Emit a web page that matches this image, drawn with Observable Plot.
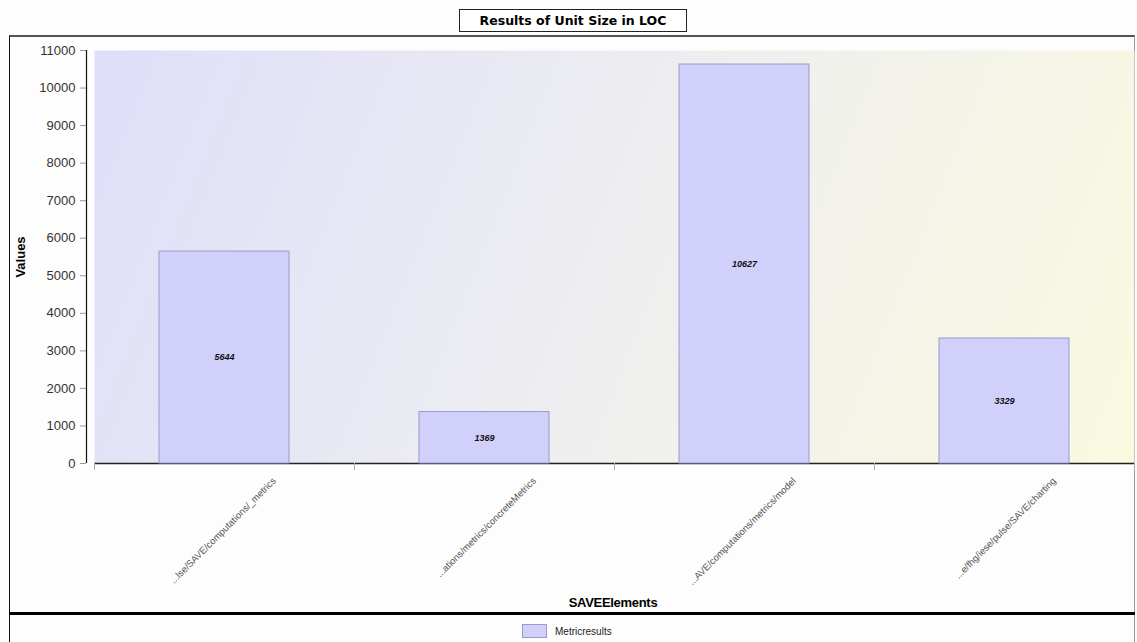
<!DOCTYPE html>
<html>
<head>
<meta charset="utf-8">
<script src="https://cdn.jsdelivr.net/npm/d3@7"></script>
<script src="https://cdn.jsdelivr.net/npm/@observablehq/plot@0.6"></script>
<style>
  html, body { margin: 0; padding: 0; background: #fdfdfd; }
  #wrap { position: relative; width: 1137px; height: 642px; overflow: hidden; font-family: "Liberation Sans", Arial, sans-serif; }
  #title { position: absolute; left: 459px; top: 9px; width: 226px; height: 21px; border: 1px solid #222; background: #fff;
           font-family: "DejaVu Sans", sans-serif; font-weight: bold; font-size: 12.5px; line-height: 21px; text-align: center; color: #000; }
  #frame { position: absolute; left: 9px; top: 35px; width: 1124px; height: 620px; border-left: 1px solid #111; border-right: 1px solid #999; border-top: 2px solid #555; }
  #sep { position: absolute; left: 9px; top: 612px; width: 1126px; height: 3px; background: #000; }
  #chart { position: absolute; left: 0; top: 35px; }
  #ylab { position: absolute; left: 20px; top: 257px; transform: translate(-50%, -50%) rotate(-90deg); font-weight: bold; font-size: 13px; color: #000; }
  #xlab { position: absolute; left: 613px; top: 602px; transform: translate(-50%, -50%); font-weight: bold; font-size: 13px; color: #000; letter-spacing: -0.3px; }
  #legend { position: absolute; left: 522px; top: 624px; display: flex; align-items: center; font-size: 10px; color: #222; }
  #legend .sw { width: 25px; height: 14px; background: #d0d0fb; border: 1px solid #9a9acc; box-sizing: border-box; margin-right: 8px; }
</style>
</head>
<body>
<div id="wrap">
  <div id="title">Results of Unit Size in LOC</div>
  <div id="frame"></div>
  <div id="chart"></div>
  <div id="sep"></div>
  <div id="ylab">Values</div>
  <div id="xlab">SAVEElements</div>
  <div id="legend"><div class="sw"></div><span>Metricresults</span></div>
</div>
<script>
const categories = [
  "...lse/SAVE/computations/_metrics",
  "...ations/metrics/concreteMetrics",
  "...AVE/computations/metrics/model",
  "...e/fhg/iese/pulse/SAVE/charting"
];
const values = [5644, 1369, 10627, 3329];
const yTicks = [0, 1000, 2000, 3000, 4000, 5000, 6000, 7000, 8000, 9000, 10000, 11000];
const seriesName = "Metricresults";

const data = categories.map((c, i) => ({cat: c, value: values[i], series: seriesName}));

const W = 1137, H = 579;
const mTop = 15, mBottom = 151, mLeft = 94, mRight = 3;

function gradientDefs() {
  const defs = d3.create("svg:defs");
  const g = defs.append("linearGradient")
    .attr("id", "plotbg")
    .attr("gradientUnits", "userSpaceOnUse")
    .attr("x1", mLeft).attr("y1", mTop)
    .attr("x2", W - mRight).attr("y2", H - mBottom);
  g.append("stop").attr("offset", "0%").attr("stop-color", "#dedefa");
  g.append("stop").attr("offset", "50%").attr("stop-color", "#eeeef0");
  g.append("stop").attr("offset", "100%").attr("stop-color", "#faf9e0");
  return defs.node();
}

const chart = Plot.plot({
  width: W,
  height: H,
  marginTop: mTop,
  marginBottom: mBottom,
  marginLeft: mLeft,
  marginRight: mRight,
  style: {background: "transparent", fontFamily: "Liberation Sans, Arial, sans-serif"},
  x: {type: "band", domain: categories, paddingInner: 0.5, paddingOuter: 0.25, axis: null},
  y: {domain: [0, 11000], axis: null},
  marks: [
    gradientDefs,
    Plot.frame({fill: "url(#plotbg)", stroke: null}),
    Plot.axisY({ticks: yTicks, tickSize: 6, tickPadding: 5, dx: -8, fontSize: 13, color: "#333", stroke: "#999", tickFormat: d => String(d), label: null}),
    Plot.ruleX([categories[0]], {x: d => d, y1: 0, y2: 11000, dx: -138, stroke: "#111", strokeWidth: 1.2}),
    Plot.ruleY([0], {stroke: "#222", strokeWidth: 1.5}),
    Plot.ruleX(categories, {x: d => d, y1: 0, y2: 0, insetBottom: -7, dx: -130, stroke: "#aaa"}),
    Plot.ruleX([categories[categories.length - 1]], {x: d => d, y1: 0, y2: 0, insetBottom: -7, dx: 130, stroke: "#aaa"}),
    Plot.barY(data, {x: "cat", y: "value", fill: "#d0d0fb", stroke: "#9a9acc", strokeWidth: 1}),
    Plot.text(data, {x: "cat", y: d => d.value / 2, text: d => String(d.value), fontWeight: "bold", fontStyle: "italic", fontSize: 9, fill: "#111"}),
    Plot.text(data, {x: "cat", frameAnchor: "bottom", text: "cat", rotate: -45, textAnchor: "end", dx: 52, dy: 18, fontSize: 9.5, fill: "#555"})
  ]
});
document.getElementById("chart").appendChild(chart);
</script>
</body>
</html>
